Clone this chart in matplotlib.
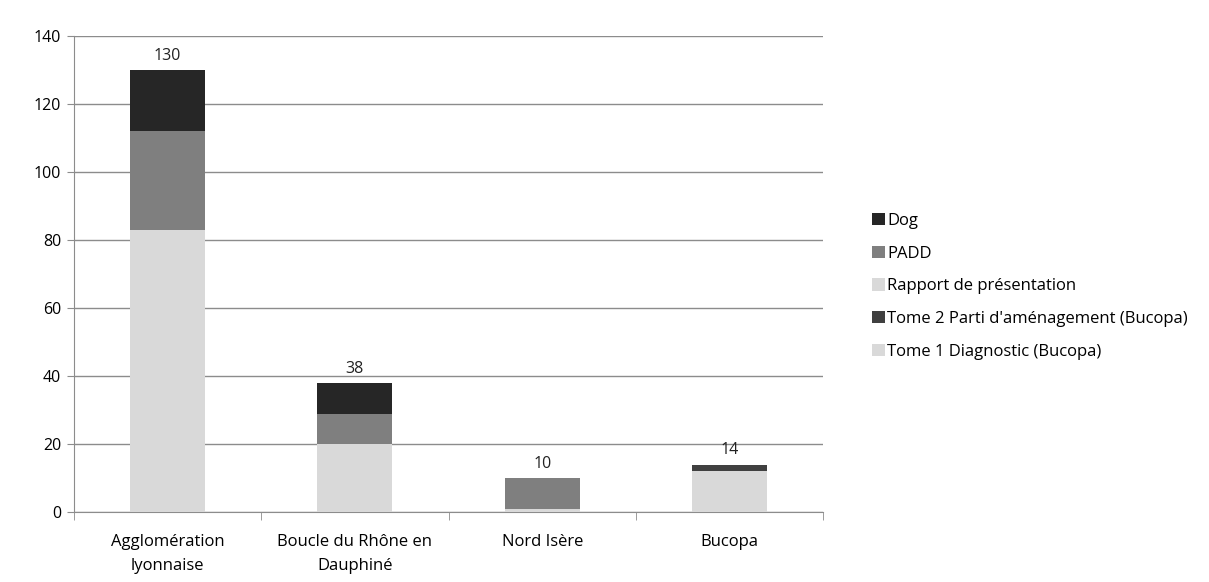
import numpy as np
import matplotlib.pyplot as plt

categories = ["Agglomération\nlyonnaise", "Boucle du Rhône en\nDauphiné", "Nord Isère", "Bucopa"]
tome1 = [0, 0, 0, 12]
tome2 = [0, 0, 0, 2]
rapport = [83, 20, 1, 0]
padd = [29, 9, 9, 0]
dog = [18, 9, 0, 0]
totals = [130, 38, 10, 14]

plt.rcParams['font.family'] = ['Open Sans', 'DejaVu Sans']

fig = plt.figure(figsize=(12.09, 5.82), dpi=100)
ax = fig.add_axes([0.061, 0.12, 0.62, 0.818])

x = np.arange(len(categories))
w = 0.4
series = [
    ("Tome 1 Diagnostic (Bucopa)", tome1, "#d9d9d9"),
    ("Tome 2 Parti d'aménagement (Bucopa)", tome2, "#404040"),
    ("Rapport de présentation", rapport, "#d9d9d9"),
    ("PADD", padd, "#7f7f7f"),
    ("Dog", dog, "#262626"),
]
bottom = np.zeros(len(categories))
handles = []
for name, vals, col in series:
    b = ax.bar(x, vals, w, bottom=bottom, color=col, label=name, zorder=3)
    handles.append(b)
    bottom += np.array(vals)

for xi, t in zip(x, totals):
    ax.text(xi, t + 1.8, str(t), ha="center", va="bottom", fontsize=11.5, color="#222222")

ax.set_xlim(-0.5, len(categories) - 0.5)
ax.set_ylim(0, 140)
ax.set_yticks(np.arange(0, 141, 20))
ax.yaxis.grid(True, color="#8c8c8c", linewidth=1, zorder=0)
ax.set_axisbelow(True)
ax.set_xticks(x)
ax.set_xticklabels(categories, fontsize=12, linespacing=1.65)
ax.set_xticks(np.arange(-0.5, len(categories)), minor=True)
ax.tick_params(axis="x", which="major", length=0, pad=16)
ax.tick_params(axis="x", which="minor", length=6, color="#8c8c8c")
ax.tick_params(axis="y", length=5, color="#8c8c8c", labelsize=11.5, pad=4)
for s in ["top", "right"]:
    ax.spines[s].set_visible(False)
for s in ["left", "bottom"]:
    ax.spines[s].set_color("#8c8c8c")

leg = fig.legend(handles[::-1], [s[0] for s in series][::-1], loc="upper left",
                 bbox_to_anchor=(0.709, 0.66), frameon=False, fontsize=12,
                 handlelength=0.75, handleheight=0.75, handletextpad=0.15,
                 labelspacing=1.0)

fig.savefig("out.png", dpi=100)
